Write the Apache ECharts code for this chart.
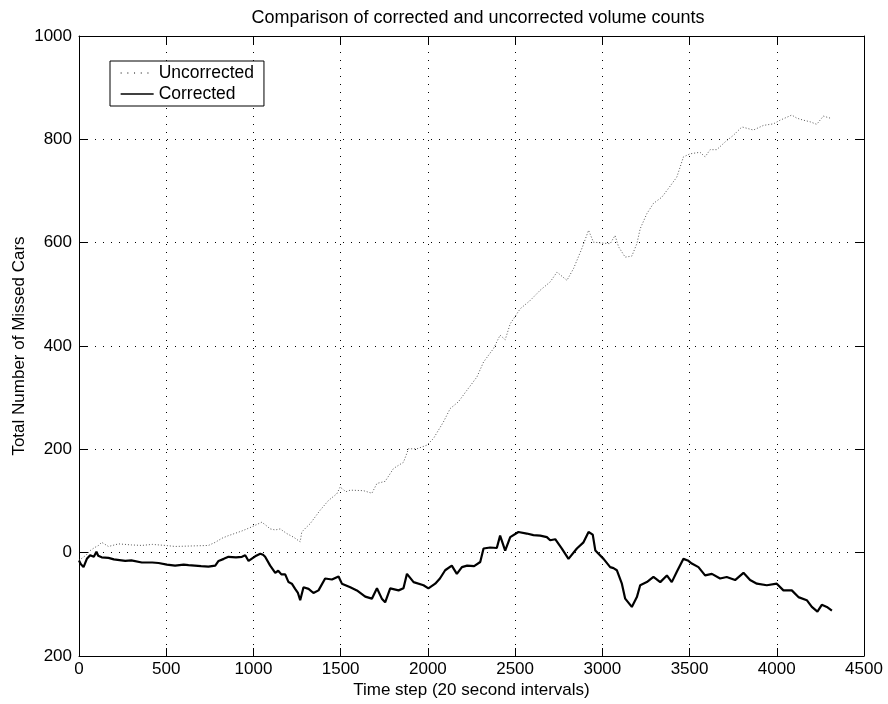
<!DOCTYPE html>
<html>
<head>
<meta charset="utf-8">
<script src="https://cdn.jsdelivr.net/npm/echarts@6/dist/echarts.min.js"></script>
<style>html,body{margin:0;padding:0;background:#fff;}#c{width:888px;height:704px;}</style>
</head>
<body>
<div id="c"></div>
<script>
const titleText = 'Comparison of corrected and uncorrected volume counts';
const xName = 'Time step (20 second intervals)';
const yName = 'Total Number of Missed Cars';
const seriesNames = ['Uncorrected', 'Corrected'];
const yTickValues = [-200, 0, 200, 400, 600, 800, 1000];
const yTickLabels = ['200', '0', '200', '400', '600', '800', '1000'];
const xTickLabels = ['0','500','1000','1500','2000','2500','3000','3500','4000','4500'];

const correctedT = [0,10,26,45,64,85,100,110,130,169,200,265,300,360,420,456,504,551,600,628,700,742,781,800,830,857,900,934,953,972,1010,1039,1055,1067,1096,1125,1142,1160,1182,1201,1220,1239,1255,1268,1287,1316,1344,1373,1411,1450,1488,1507,1555,1593,1641,1679,1708,1736,1755,1784,1832,1860,1880,1918,1975,2003,2042,2069,2099,2137,2166,2195,2225,2265,2300,2319,2357,2395,2414,2443,2472,2519,2567,2605,2644,2682,2701,2730,2768,2806,2854,2892,2921,2932,2945,2960,3007,3045,3064,3083,3112,3131,3169,3198,3217,3255,3293,3332,3370,3398,3427,3465,3490,3513,3551,3589,3628,3675,3713,3761,3809,3847,3886,3943,4000,4038,4086,4124,4172,4201,4233,4258,4287,4316];
const correctedV = [-15,-22,-28,-12,-5,-8,2,-6,-9,-10,-13,-16,-15,-19,-19,-20,-23,-25,-23,-24,-26,-27,-25,-16,-12,-8,-9,-8,-5,-16,-7,-2,-4,-8,-25,-39,-35,-42,-42,-57,-60,-70,-78,-92,-67,-70,-78,-73,-50,-52,-46,-60,-67,-73,-85,-89,-69,-89,-96,-69,-73,-69,-41,-57,-63,-69,-60,-50,-34,-25,-41,-28,-25,-26,-18,8,10,9,33,4,30,40,37,34,33,30,24,26,8,-12,8,20,40,42,35,4,-12,-28,-30,-34,-60,-89,-105,-86,-63,-57,-47,-57,-44,-57,-37,-12,-15,-21,-28,-44,-41,-50,-47,-53,-39,-53,-60,-63,-60,-73,-73,-86,-92,-105,-114,-101,-105,-112];

const uncorrectedT = [0,40,64,90,112,130,169,227,300,360,420,494,551,650,742,781,820,857,900,934,991,1048,1075,1096,1125,1153,1191,1230,1268,1277,1300,1325,1382,1430,1478,1497,1530,1555,1631,1679,1708,1755,1803,1860,1889,1937,1994,2032,2089,2128,2175,2223,2281,2319,2376,2414,2443,2472,2529,2586,2644,2701,2740,2797,2835,2883,2921,2949,3007,3045,3073,3093,3131,3169,3198,3217,3255,3293,3341,3379,3427,3465,3503,3560,3589,3618,3656,3704,3752,3800,3866,3924,3981,4019,4086,4115,4153,4191,4229,4267,4316];
const uncorrectedV = [-15,-5,4,10,14,20,12,17,15,14,16,14,12,13,14,20,28,33,38,42,50,59,52,46,44,46,37,30,21,40,48,56,82,101,114,127,118,121,120,115,134,138,163,175,201,201,208,221,253,279,292,314,340,369,395,421,412,443,472,488,508,524,543,527,550,589,624,601,599,598,614,592,572,574,598,627,656,676,688,705,727,766,772,775,766,780,780,795,808,824,818,827,830,837,847,841,837,834,829,845,840];

const FONT = '"Liberation Sans", Arial, Helvetica, sans-serif';
const pair = (ts, vs) => ts.map((t, i) => [t, vs[i]]);

const chart = echarts.init(document.getElementById('c'), null, {renderer: 'canvas'});
const axisLine = {show: true, onZero: false, lineStyle: {color: '#000', width: 1}};
const tick = {show: true, inside: true, length: 8, lineStyle: {color: '#000', width: 1}};
const split = {show: true, lineStyle: {color: '#000', width: 1, type: [1, 7]}};

chart.setOption({
  animation: false,
  backgroundColor: '#fff',
  title: {
    text: titleText, left: 473, top: 4, textAlign: 'center',
    textStyle: {fontFamily: FONT, fontSize: 18, fontWeight: 'normal', color: '#000'}
  },
  legend: {
    orient: 'vertical', left: 110, top: 61,
    backgroundColor: '#fff', borderColor: '#000', borderWidth: 1,
    padding: [3, 10, 3, 10], itemGap: 3, itemWidth: 33, itemHeight: 14,
    itemStyle: {color: 'transparent', borderWidth: 0, opacity: 0},
    textStyle: {fontFamily: FONT, fontSize: 17.5, color: '#000'},
    data: [
      {name: seriesNames[0], lineStyle: {color: '#000', width: 1, type: [1, 5.7]}},
      {name: seriesNames[1], lineStyle: {color: '#000', width: 1.3, type: 'solid'}}
    ]
  },
  grid: {left: 79, right: 24, top: 36, bottom: 48, containLabel: false},
  xAxis: [{
    type: 'value', min: 0, max: 4500, interval: 500, position: 'bottom',
    name: xName, nameLocation: 'middle', nameGap: 26, nameMoveOverlap: false,
    nameTextStyle: {fontFamily: FONT, fontSize: 17, color: '#000'},
    axisLine: axisLine, axisTick: tick, splitLine: split,
    axisLabel: {fontFamily: FONT, fontSize: 17, color: '#000', margin: 5,
      formatter: v => xTickLabels[Math.round(v / 500)]}
  }, {
    type: 'value', min: 0, max: 4500, interval: 500, position: 'top',
    axisLine: axisLine, axisTick: tick, splitLine: {show: false}, axisLabel: {show: false}
  }],
  yAxis: [{
    type: 'value', min: -200, max: 1000, interval: 200, position: 'left',
    name: yName, nameLocation: 'middle', nameGap: 51, nameMoveOverlap: false,
    nameTextStyle: {fontFamily: FONT, fontSize: 17, color: '#000'},
    axisLine: axisLine, axisTick: tick, splitLine: split,
    axisLabel: {fontFamily: FONT, fontSize: 17, color: '#000', margin: 7,
      formatter: v => yTickLabels[yTickValues.indexOf(v)]}
  }, {
    type: 'value', min: -200, max: 1000, interval: 200, position: 'right',
    axisLine: axisLine, axisTick: tick, splitLine: {show: false}, axisLabel: {show: false}
  }],
  series: [{
    name: seriesNames[0], type: 'line', showSymbol: false, symbol: 'none',
    data: pair(uncorrectedT, uncorrectedV),
    lineStyle: {color: '#555', width: 1, type: [1, 2]},
    itemStyle: {color: '#555'}
  }, {
    name: seriesNames[1], type: 'line', showSymbol: false, symbol: 'none',
    data: pair(correctedT, correctedV),
    lineStyle: {color: '#000', width: 2.2},
    itemStyle: {color: '#000'}
  }]
});
</script>
</body>
</html>
